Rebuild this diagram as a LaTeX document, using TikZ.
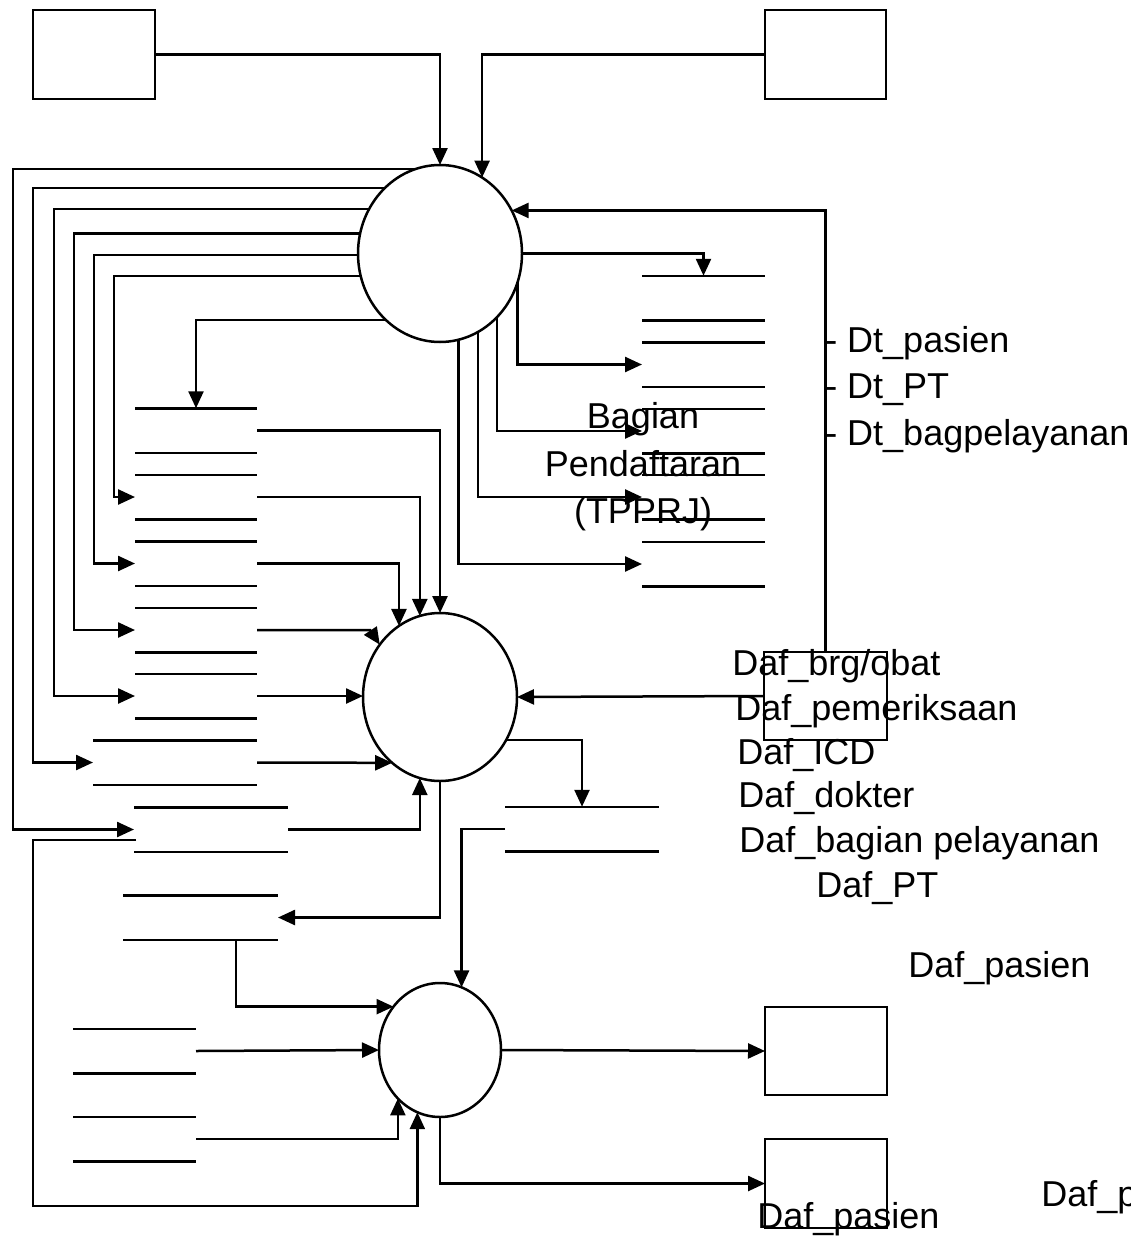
\documentclass[tikz,border=0pt]{standalone}
\usepackage{fontspec}
\setmainfont{Liberation Sans}
\usetikzlibrary{arrows.meta,shapes.geometric,calc}
\begin{document}
\begin{tikzpicture}[x=1pt,y=-1pt,
  line width=2.5pt,
  arr/.style={-{Triangle[length=17pt,width=15pt]}},
  proc/.style={ellipse,draw,fill=white,inner sep=0pt,outer sep=0pt},
  ext/.style={rectangle,draw,inner sep=0pt,outer sep=0pt},
  store/.style={rectangle,inner sep=0pt,outer sep=0pt,minimum height=44.5pt,
     append after command={(\tikzlastnode.north west) edge[-] (\tikzlastnode.north east)
                           (\tikzlastnode.south west) edge[-] (\tikzlastnode.south east)}},
  lbl/.style={font=\fontsize{36}{44}\selectfont,inner sep=0pt,anchor=base west},
  clbl/.style={font=\fontsize{36}{44}\selectfont,inner sep=0pt,anchor=base}
]
\useasboundingbox (0,0) rectangle (1131,1239);

% external entities
\node[ext,minimum width=122pt,minimum height=89pt] (lb) at (94,54.5) {};
\node[ext,minimum width=121pt,minimum height=89pt] (rb) at (825.5,54.5) {};
\node[ext,minimum width=123pt,minimum height=88pt] (db) at (825.5,696) {};
\node[ext,minimum width=122pt,minimum height=88pt] (bx3) at (826,1051) {};
\node[ext,minimum width=122pt,minimum height=89pt] (bx4) at (826,1183.5) {};

% processes
\node[proc,minimum width=164pt,minimum height=177pt] (p1) at (440,253.5) {};
\node[proc,minimum width=154pt,minimum height=168pt] (p2) at (440,697) {};
\node[proc,minimum width=122pt,minimum height=134pt] (p3) at (440,1050) {};

% data stores, left column
\node[store,minimum width=122pt] (S1) at (196,430.5) {};
\node[store,minimum width=122pt] (S2) at (196,497) {};
\node[store,minimum width=122pt] (S3) at (196,563.5) {};
\node[store,minimum width=122pt] (S4) at (196,630) {};
\node[store,minimum width=122pt] (S5) at (196,696) {};
\node[store,minimum width=164pt] (S6) at (175,762.5) {};
\node[store,minimum width=154pt] (S7) at (211,829.5) {};
\node[store,minimum width=155pt] (S8) at (200.5,917.5) {};
% data stores, right column
\node[store,minimum width=123pt] (R1) at (703.5,298) {};
\node[store,minimum width=123pt] (R2) at (703.5,364.5) {};
\node[store,minimum width=123pt] (R3) at (703.5,431) {};
\node[store,minimum width=123pt] (R4) at (703.5,497) {};
\node[store,minimum width=123pt] (R5) at (703.5,564) {};
\node[store,minimum width=154pt] (S9) at (582,829) {};
% data stores, bottom left
\node[store,minimum width=123pt] (B1) at (134.5,1051) {};
\node[store,minimum width=123pt] (B2) at (134.5,1139) {};

% helper coordinates for bus lines
\coordinate (v1) at (13,0);
\coordinate (v2) at (33,0);
\coordinate (v3) at (54,0);
\coordinate (v4) at (74,0);
\coordinate (v5) at (94,0);
\coordinate (v6) at (114,0);
\coordinate (ybot) at (0,1206);
\coordinate (s7o) at ($(S7.west)+(2,10.5)$);
\coordinate (s8o) at ($(S8.south)+(35.5,0)$);

% flows into process 1
\draw[arr] (lb.east) -| (p1.north);
\draw[arr] (rb.west) -| (p1.61.7);
\draw[arr] (db.north) |- (p1.31.8);

% process 1 to left stores
\draw[arr] (p1.106.2) -| (S7.west -| v1) -- (S7.west);
\draw[arr] (p1.130.4) -| (S6.west -| v2) -- (S6.west);
\draw[arr] (p1.148.2) -| (S5.west -| v3) -- (S5.west);
\draw[arr] (p1.166.7) -| (S4.west -| v4) -- (S4.west);
\draw[arr] (p1.181.4) -| (S3.west -| v5) -- (S3.west);
\draw[arr] (p1.196.9) -| (S2.west -| v6) -- (S2.west);
\draw[arr] (p1.231.5) -| (S1.north);

% process 1 to right stores
\draw[arr] (p1.east) -| (R1.north);
\draw[arr] (p1.340.8) |- (R2.west);
\draw[arr] (p1.312) |- (R3.west);
\draw[arr] (p1.296) |- (R4.west);
\draw[arr] (p1.282.5) |- (R5.west);

% stores to process 2
\draw[arr] (S1.east) -| (p2.north);
\draw[arr] (S2.east) -| (p2.104.6);
\draw[arr] (S3.east) -| (p2.120);
\draw[arr] (S4.east) -- ++(113,0) -- (p2.139.3);
\draw[arr] (S5.east) -- (S5.east -| p2.west);
\draw[arr] (S6.east) -- (p2.234.2);
\draw[arr] (S7.east) -| (p2.256.1);
\draw[arr] (db.west) -- (p2.east);

% process 2 outputs
\draw[arr] (p2.327) -| (S9.north);
\draw[arr] (p2.south) |- (S8.east);

% into process 3
\draw[arr] (S9.west) -| (p3.71.5);
\draw[arr] (s8o) |- (p3.137.4);
\draw[arr] (B1.east) -- (p3.west);
\draw[arr] (B2.east) -| (p3.229.2);
\draw[arr] (s7o) -| (ybot -| v2) -| (p3.250.6);

% process 3 outputs
\draw[arr] (p3.east) -- (bx3.west);
\draw[arr] (p3.south) |- (bx4.west);

% labels
\node[clbl] (lbA) at (643,428) {Bagian};
\node[clbl] (lbB) at (643,476) {Pendaftaran};
\node[clbl] (lbC) at (643,523) {(TPPRJ)};
\node[lbl] (t1) at (824,352) {- Dt\_pasien};
\node[lbl] (t2) at (824,398) {- Dt\_PT};
\node[lbl] (t3) at (824,445) {- Dt\_bagpelayanan};
\node[lbl] (t4) at (731,675) {Daf\_brg/obat};
\node[lbl] (t5) at (734,720) {Daf\_pemeriksaan};
\node[lbl] (t6) at (736,764) {Daf\_ICD};
\node[lbl] (t7) at (737,807) {Daf\_dokter};
\node[lbl] (t8) at (738,852) {Daf\_bagian pelayanan};
\node[lbl] (t9) at (815,897) {Daf\_PT};
\node[lbl] (t10) at (907,977) {Daf\_pasien};
\node[lbl] (t11) at (756,1228) {Daf\_pasien};
\node[lbl] (t12) at (1040,1206) {Daf\_pasien};
\end{tikzpicture}
\end{document}
